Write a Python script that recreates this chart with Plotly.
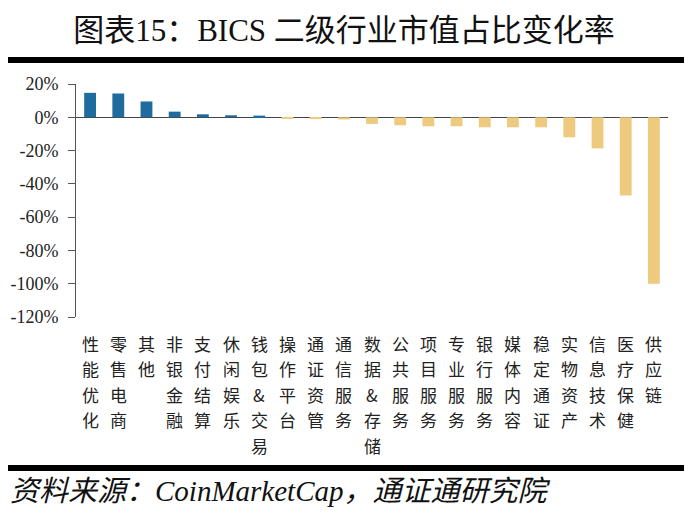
import plotly.graph_objects as go

categories = ["性能优化", "零售电商", "其他", "非银金融", "支付结算", "休闲娱乐", "钱包&交易",
              "操作平台", "通证资管", "通信服务", "数据&存储", "公共服务", "项目服务", "专业服务",
              "银行服务", "媒体内容", "稳定通证", "实物资产", "信息技术", "医疗保健", "供应链"]
values = [14.7, 14.3, 9.5, 3.4, 1.8, 1.2, 1.0, -0.8, -1.1, -1.3, -4.0, -4.8, -5.4, -5.4,
          -6.0, -6.0, -6.0, -12.0, -18.7, -47.0, -100.0]
y_ticks = [20, 0, -20, -40, -60, -80, -100, -120]
y_tick_labels = [f"{v}%" for v in y_ticks]

title_text = "图表15：BICS 二级行业市值占比变化率"
source_text = "资料来源：CoinMarketCap，通证通研究院"

BLUE = "#1E6C9D"
GOLD = "#EDCA7E"
colors = [BLUE if v >= 0 else GOLD for v in values]

SERIF = "Liberation Serif, Times New Roman, Noto Sans CJK SC, serif"

# page body has an 8px default margin; work in reference pixel coords and offset
OFF = 8
W, H = 692 - OFF, 525 - OFF
ml, mr, mt, mb = 76 - OFF, 24, 84 - OFF, 208
pw = W - ml - mr
ph = H - mt - mb


def px_to_paper_x(px):
    return (px - OFF - ml) / pw


def px_to_paper_y(py):
    return (H - mb - (py - OFF)) / ph


fig = go.Figure()
fig.add_trace(go.Bar(x=categories, y=values, marker=dict(color=colors, line=dict(width=0)),
                     hoverinfo="x+y"))

# vertical stacked category labels (one character per line)
annotations = []
for cat in categories:
    for j, ch in enumerate(cat):
        annotations.append(dict(text=ch, x=cat, xref="x", yref="paper",
                                y=px_to_paper_y(343), yshift=-25.5 * j,
                                xanchor="center", yanchor="middle", showarrow=False,
                                font=dict(family="Noto Sans CJK SC, serif", size=17, color="#222222")))

annotations.append(dict(text=f"<i>{source_text}</i>", xref="paper", yref="paper",
                        x=px_to_paper_x(8), y=px_to_paper_y(491), xanchor="left", yanchor="middle",
                        showarrow=False, font=dict(family=SERIF, size=29, color="#111111")))

fig.update_layout(
    width=W, height=H,
    margin=dict(l=ml, r=mr, t=mt, b=mb, autoexpand=False),
    paper_bgcolor="white", plot_bgcolor="white",
    showlegend=False,
    bargap=0.58,
    title=dict(text=title_text, x=(344 - OFF) / W, xref="container",
               y=1 - (30 - OFF) / H, yref="container",
               xanchor="center", yanchor="middle",
               font=dict(family=SERIF, size=31, color="#111111")),
    xaxis=dict(type="category", showline=False, showgrid=False, ticks="", zeroline=False,
               showticklabels=False, automargin=False),
    yaxis=dict(range=[-120, 20], tickmode="array", tickvals=y_ticks, ticktext=y_tick_labels,
               showgrid=False, showline=True, linecolor="#555555", linewidth=1,
               ticks="outside", ticklen=7, tickcolor="#555555", tickwidth=1,
               ticklabelstandoff=6, automargin=False,
               zeroline=True, zerolinecolor="#444444", zerolinewidth=1.2,
               tickfont=dict(family=SERIF, size=18, color="#222222")),
    shapes=[
        dict(type="line", xref="paper", yref="paper",
             x0=px_to_paper_x(0), x1=px_to_paper_x(692), y0=px_to_paper_y(60), y1=px_to_paper_y(60),
             line=dict(color="black", width=6)),
        dict(type="line", xref="paper", yref="paper",
             x0=px_to_paper_x(0), x1=px_to_paper_x(692), y0=px_to_paper_y(468), y1=px_to_paper_y(468),
             line=dict(color="black", width=6)),
    ],
    annotations=annotations,
)

fig.write_html("out.html")
